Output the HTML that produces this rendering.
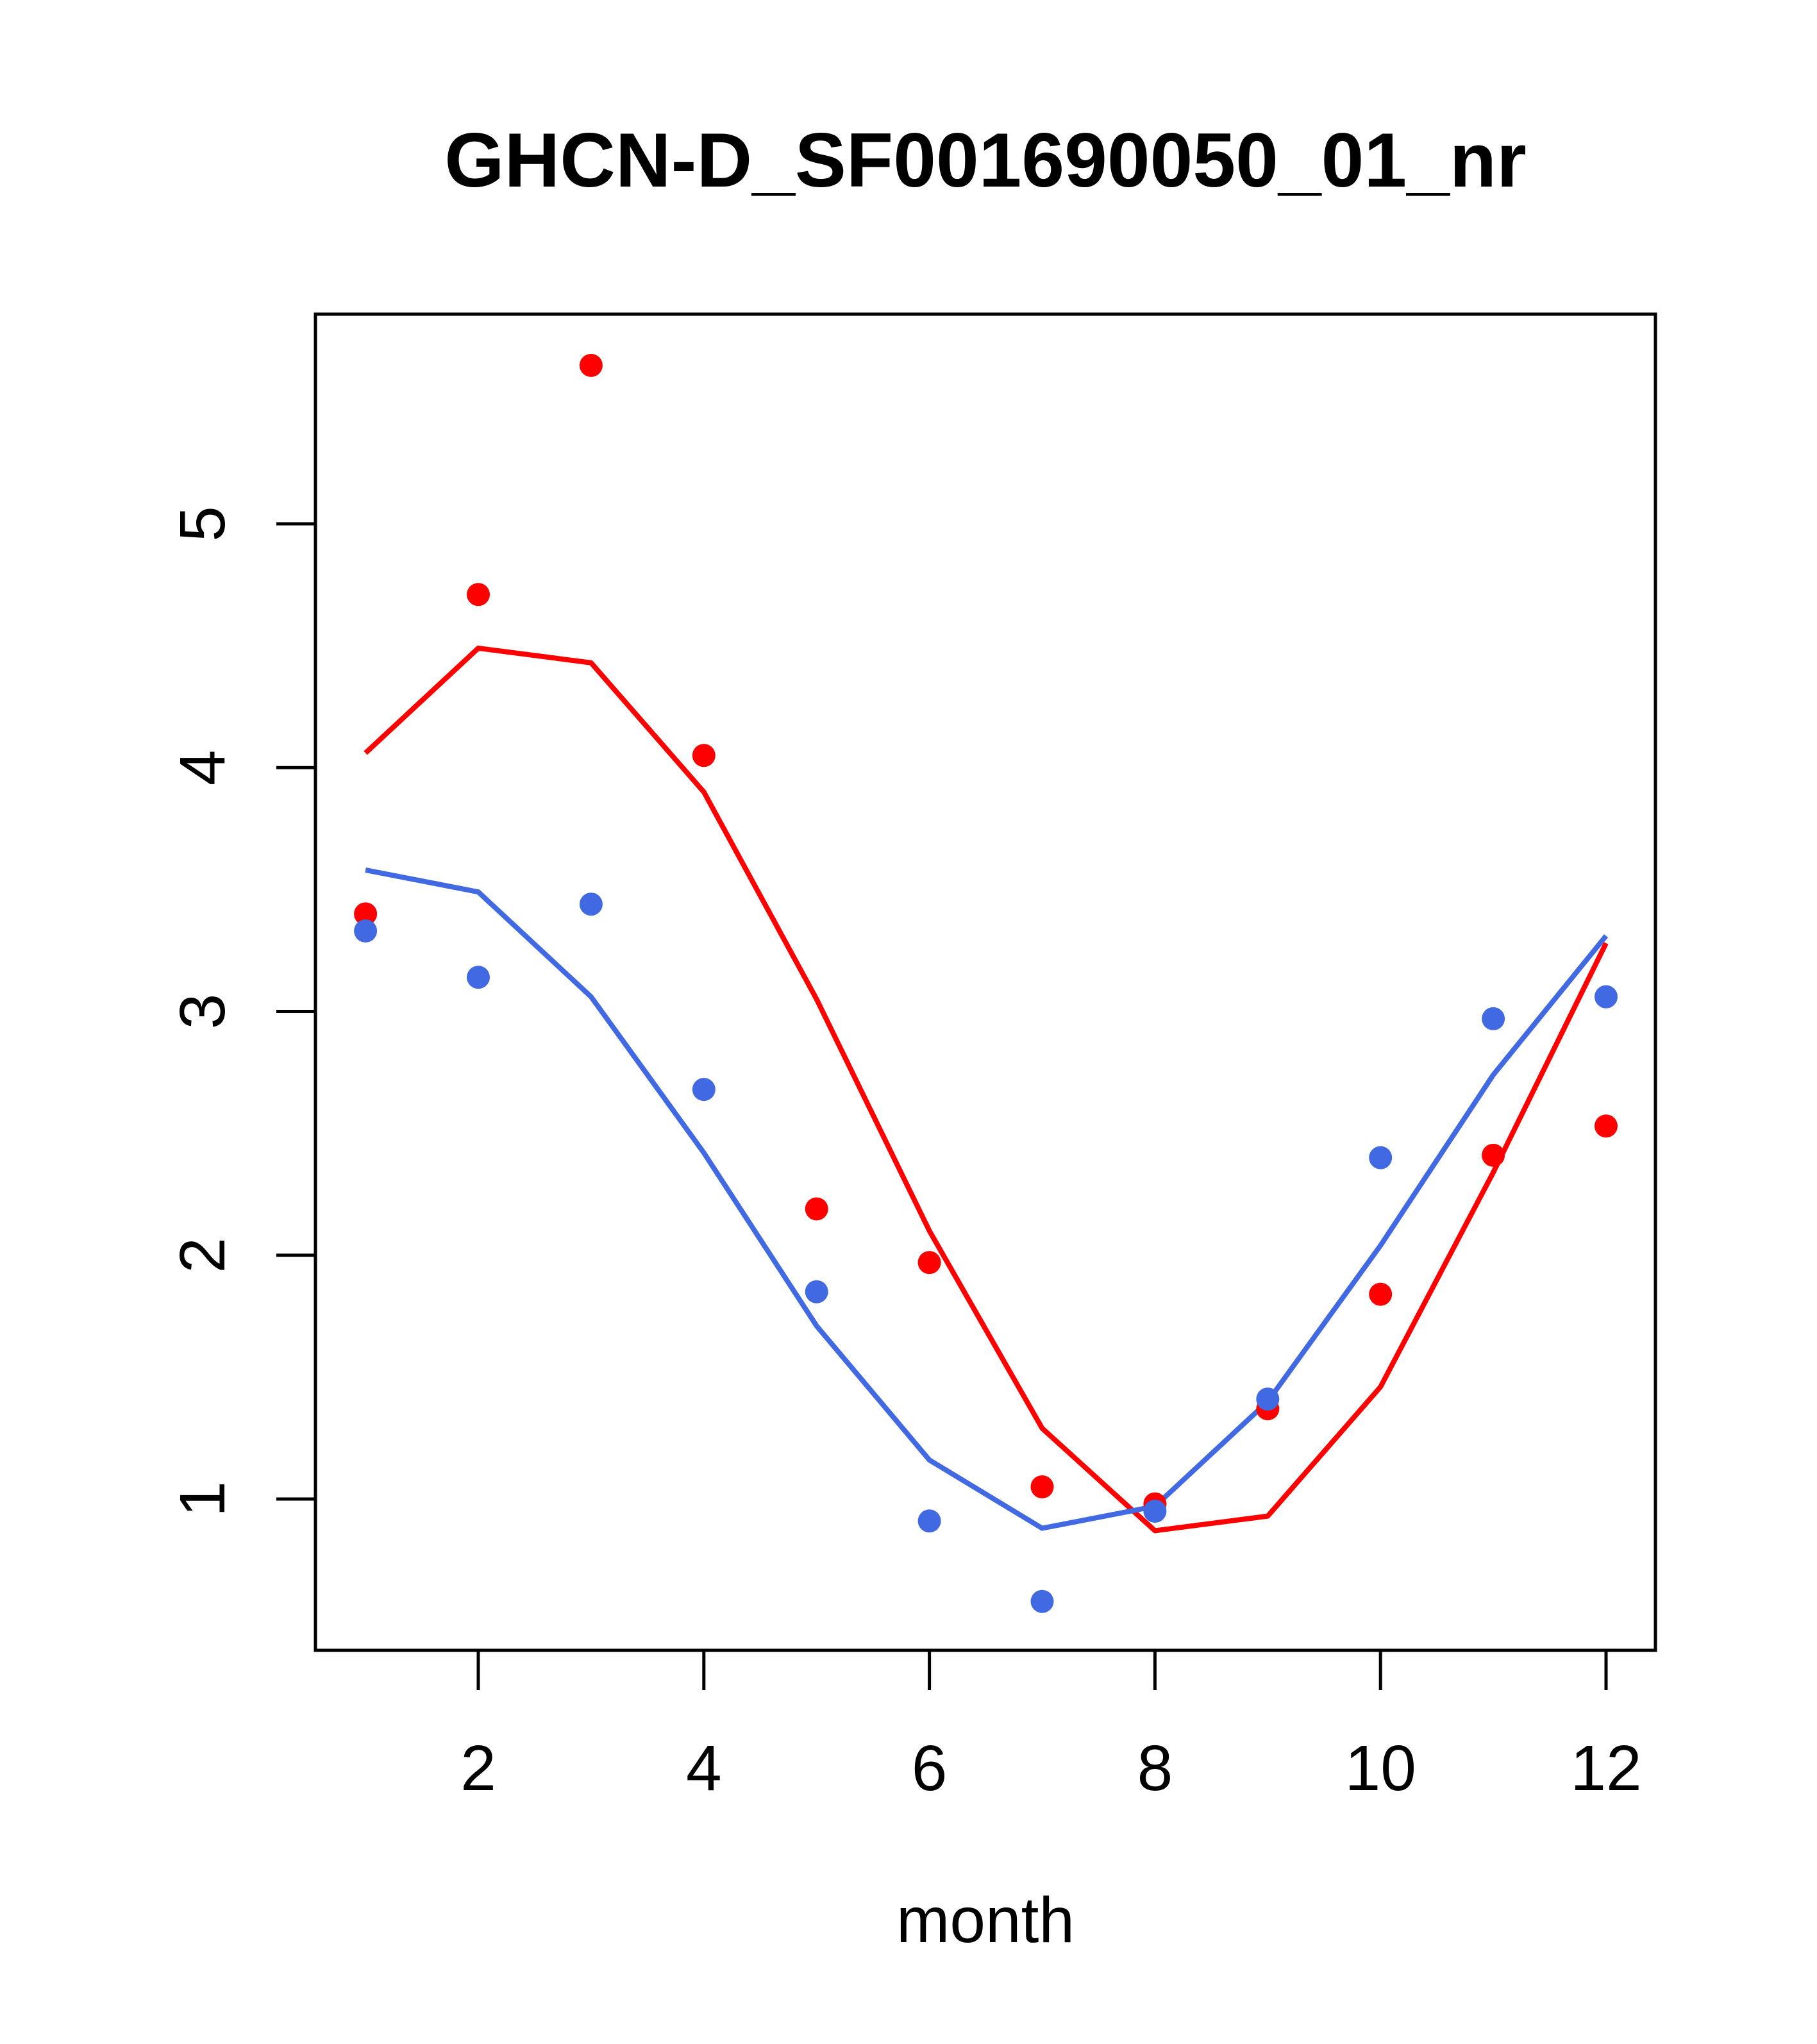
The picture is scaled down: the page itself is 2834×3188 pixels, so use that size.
<!DOCTYPE html>
<html><head><meta charset="utf-8"><style>html,body{margin:0;padding:0;background:#fff}svg{display:block}</style></head>
<body>
<svg id="chart" width="2834" height="3188" viewBox="0 0 2834 3188" xmlns="http://www.w3.org/2000/svg" font-family="Liberation Sans, Arial, sans-serif">
<rect width="2834" height="3188" fill="#fff"/>
<text x="1537" y="291" font-size="120" font-weight="bold" text-anchor="middle">GHCN-D_SF001690050_01_nr</text>
<rect x="492" y="490" width="2090" height="2084" fill="none" stroke="#000" stroke-width="5"/>
<text x="1537" y="3029" font-size="100" text-anchor="middle">month</text>
<g id="xaxis"></g>
<g id="yaxis"></g>
<g id="series"></g>
</svg>
<script>
const months = [1,2,3,4,5,6,7,8,9,10,11,12];
const redPoints = [3.40,4.71,5.65,4.05,2.19,1.97,1.05,0.98,1.37,1.84,2.41,2.53];
const bluePoints = [3.33,3.14,3.44,2.68,1.85,0.91,0.58,0.95,1.41,2.40,2.97,3.06];
const redLine = [4.06,4.49,4.43,3.90,3.05,2.10,1.29,0.87,0.93,1.46,2.34,3.28];
const blueLine = [3.58,3.49,3.06,2.42,1.71,1.16,0.88,0.97,1.40,2.04,2.74,3.31];
const xTicks = [2,4,6,8,10,12];
const yTicks = [1,2,3,4,5];

const NS = 'http://www.w3.org/2000/svg';
function X(m){ return 746 + (m-2)*(2505-746)/10; }
function Y(v){ return 2338 - (v-1)*(2338-817)/4; }
function mk(tag, attrs, parent){ const e=document.createElementNS(NS,tag); for(const k in attrs) e.setAttribute(k,attrs[k]); parent.appendChild(e); return e; }

const xa=document.getElementById('xaxis');
xTicks.forEach(t=>{
  const l=mk('line',{x1:X(t),x2:X(t),y1:2574,y2:2636,stroke:'#000','stroke-width':5},xa);
  
  
  const tx=mk('text',{x:X(t),y:2792,'font-size':100,'text-anchor':'middle'},xa);
  tx.textContent=t;
  
  
});
const ya=document.getElementById('yaxis');
yTicks.forEach(t=>{
  const l=mk('line',{x1:431,x2:492,y1:Y(t),y2:Y(t),stroke:'#000','stroke-width':5},ya);
  
  
  const tx=mk('text',{x:0,y:0,'font-size':100,'text-anchor':'middle',transform:`translate(350,${Y(t)}) rotate(-90)`},ya);
  tx.textContent=t;
  
  
});
const sg=document.getElementById('series');
function line(vals,color,name){
  const p=mk('polyline',{points:months.map((m,i)=>X(m)+','+Y(vals[i])).join(' '),fill:'none',stroke:color,'stroke-width':8,'stroke-linejoin':'round'},sg);
  
  
}
function pts(vals,color,name){
  months.forEach((m,i)=>{
    const c=mk('circle',{cx:X(m),cy:Y(vals[i]),r:18,fill:color},sg);
    
    
  });
}
line(redLine,'#ff0000','red-fit-line');
line(blueLine,'#4169e1','blue-fit-line');
pts(redPoints,'#ff0000','red-point');
pts(bluePoints,'#4169e1','blue-point');
</script>
</body></html>
